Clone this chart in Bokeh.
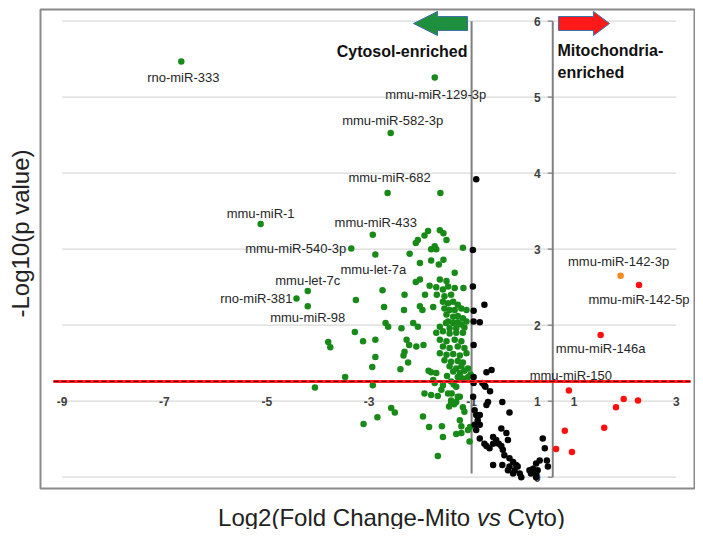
import math
from bokeh.plotting import figure
from bokeh.models import Range1d
from bokeh.embed import file_html
from bokeh.resources import INLINE
from bokeh.core.properties import value

# ---------------- data ----------------
x_ticks = [-9, -7, -5, -3, -1, 1, 3]
y_ticks = [0, 1, 2, 3, 4, 5, 6]
x_tick_labels = ["-9", "-7", "-5", "-3", "-1", "1", "3"]
y_tick_labels = ["0", "1", "2", "3", "4", "5", "6"]
fc_low = -1.0        # log2 fold-change threshold (cytosol)
fc_high = 0.585      # log2 fold-change threshold (mitochondria); y axis crosses here
p_cut = 1.26         # -log10(p) threshold line
x_axis_cross = 1.0   # horizontal axis crosses the y axis at this value

green_x = [-6.67, -1.72, -2.58, -2.64, -1.61, -5.12, -2.93, -1.85, -1.62, -1.55,
           -1.49, -1.92, -2.05, -2.09, -3.35, -2.88, -2.21, -1.79, -1.72, -1.69,
           -1.17, -2.01, -1.79, -1.55, -1.64, -1.33, -2.01, -2.09, -1.82, -4.20,
           -2.74, -4.42, -3.26, -2.31, -1.91, -1.68, -1.16, -4.20, -2.71, -2.32,
           -2.01, -1.96, -1.75, -2.68, -2.63, -2.37, -2.14, -2.05, -3.28, -3.12,
           -2.88, -3.80, -3.76, -2.27, -2.22, -2.08, -1.94, -2.31, -2.33, -2.24,
           -2.88, -2.94, -2.39, -3.47, -4.06, -2.93, -1.84, -1.79, -1.69, -1.75,
           -1.72, -1.59, -1.92, -1.79, -1.66, -1.46, -1.40, -1.30, -1.23, -1.23,
           -2.57, -2.50, -1.95, -2.84, -3.11, -1.83, -1.58, -1.23, -1.20, -1.30,
           -1.20, -1.56, -1.66, -1.44, -1.40, -1.17, -1.14, -1.07, -1.04, -1.02,
           -1.48, -1.40, -1.34, -1.30, -1.56, -1.35, -1.39, -1.27, -1.03, -1.50,
           -1.62,
           -1.62, -1.49, -1.69, -1.56, -1.46, -1.33, -1.53, -1.40, -1.56, -1.46,
           -1.36, -1.27, -1.53, -1.43, -1.33, -1.20, -1.10, -1.49, -1.36, -1.27,
           -1.17, -1.46, -1.36, -1.27, -1.20, -1.10, -1.43, -1.30, -1.14,
           -1.69, -1.56, -1.43, -1.30, -1.17, -1.62, -1.49, -1.33, -1.20, -1.56,
           -1.43, -1.27, -1.14, -1.62, -1.49, -1.36, -1.23, -1.10, -1.53, -1.40,
           -1.27, -1.17, -1.43, -1.30, -1.20, -1.07, -1.36, -1.23, -1.14, -1.27,
           -1.17, -1.07]
green_y = [5.47, 5.26, 4.53, 3.74, 3.74, 3.33, 3.19, 3.24, 3.25, 3.21,
           3.12, 3.18, 3.12, 3.08, 3.01, 2.93, 2.94, 3.00, 3.04, 3.00,
           3.02, 2.82, 2.85, 2.86, 2.80, 2.69, 2.60, 2.57, 2.52, 2.45,
           2.46, 2.35, 2.33, 2.40, 2.40, 2.40, 2.49, 2.25, 2.24, 2.20,
           2.25, 2.20, 2.24, 2.03, 1.98, 1.96, 2.03, 1.98, 1.91, 1.79,
           1.81, 1.78, 1.71, 1.81, 1.74, 1.72, 1.74, 1.65, 1.60, 1.51,
           1.58, 1.45, 1.42, 1.32, 1.18, 1.21, 1.40, 1.38, 1.37, 1.28,
           1.24, 1.15, 1.10, 1.08, 1.07, 1.10, 1.26, 1.19, 1.32, 1.06,
           0.91, 0.85, 0.80, 0.79, 0.70, 0.66, 0.67, 0.75, 0.67, 0.57,
           0.58, 0.53, 0.28, 0.93, 0.97, 0.92, 0.86, 0.62, 0.47, 1.35,
           1.33, 1.01, 0.96, 0.99, 1.21, 1.22, 1.10, 1.06, 0.66, 2.03,
           1.98,
           2.60, 2.58, 2.50, 2.47, 2.51, 2.49, 2.38, 2.40, 2.31, 2.29,
           2.31, 2.27, 2.22, 2.20, 2.20, 2.22, 2.20, 2.14, 2.11, 2.12,
           2.09, 2.05, 2.03, 2.04, 2.01, 2.05, 1.96, 1.96, 1.97,
           1.90, 1.92, 1.89, 1.90, 1.90, 1.81, 1.79, 1.81, 1.79, 1.72,
           1.70, 1.72, 1.70, 1.63, 1.61, 1.62, 1.60, 1.63, 1.54, 1.52,
           1.53, 1.51, 1.46, 1.43, 1.46, 1.43, 1.39, 1.37, 1.40, 1.32,
           1.30, 1.32]

black_x = [-0.91, -0.975, -0.975, -0.75, -0.96, -0.96, -0.84, -0.96, -0.71, -0.61,
           -0.96, -0.96, -0.79, -0.75, -0.73, -0.64, -0.97, -0.40, -0.68, -0.71,
           -0.94, -0.26, -0.91, -0.84, -0.88, -0.94, -0.84, -0.42, -0.91, -0.32,
           -0.58, -0.84, 0.39, -0.52, -0.29, -0.75, -0.58, -0.47, -0.71, -0.42,
           -0.65, 0.43, -0.39, -0.36, -0.26, 0.33, 0.47, -0.19, 0.26, -0.58,
           -0.40, -0.13, -0.26, -0.10, 0.49, 0.20, -0.29, -0.16, 0.13, 0.29,
           -0.19, -0.06, 0.16, 0.26, -0.03, 0.26]
black_y = [3.92, 2.99, 2.51, 2.27, 2.19, 2.05, 2.04, 1.74, 1.38, 1.41,
           1.32, 1.24, 1.24, 1.21, 1.19, 1.13, 1.06, 0.99, 0.99, 0.95,
           0.88, 0.85, 0.82, 0.82, 0.75, 0.69, 0.69, 0.64, 0.62, 0.58,
           0.53, 0.51, 0.51, 0.49, 0.49, 0.44, 0.44, 0.44, 0.41, 0.41,
           0.38, 0.38, 0.36, 0.29, 0.25, 0.22, 0.22, 0.20, 0.18, 0.16,
           0.16, 0.16, 0.14, 0.14, 0.14, 0.11, 0.09, 0.09, 0.09, 0.09,
           0.05, 0.05, 0.05, 0.05, 0.00, 0.00]

red_x = [0.90, 1.97, 2.25, 1.82, 0.82, 1.59, 0.65, 0.96, 2.27, 1.52]
red_y = [1.14, 1.03, 1.01, 0.92, 0.61, 0.65, 0.37, 0.33, 2.53, 1.87]

orange_x = [1.91]
orange_y = [2.65]

label_names = ["rno-miR-333", "mmu-miR-129-3p", "mmu-miR-582-3p", "mmu-miR-682",
               "mmu-miR-1", "mmu-miR-433", "mmu-miR-540-3p", "mmu-let-7a",
               "mmu-let-7c", "rno-miR-381", "mmu-miR-98", "mmu-miR-142-3p",
               "mmu-miR-142-5p", "mmu-miR-146a", "mmu-miR-150"]
label_x = [-6.67, -1.72, -2.58, -2.64, -5.12, -2.93, -3.35, -2.88, -4.20, -4.42,
           -4.20, 1.91, 2.27, 1.52, 0.90]
label_y = [5.47, 5.26, 4.53, 3.74, 3.33, 3.19, 3.01, 2.93, 2.45, 2.35,
           2.25, 2.65, 2.53, 1.87, 1.14]

# ---------------- layout (pixels) ----------------
W, H = 695, 529
PAGE = 0
X0PX, XPER = 61.5, 51.2   # screen px of x=-9, px per x unit
Y0PX, YPER = 476.7, 76.0  # screen px of y=0, px per y unit

def dx(px):
    return (px - X0PX) / XPER - 9

def dy(py):
    return (Y0PX - py) / YPER

# label offsets in px (right, down) and alignment
lab_off = [(2, 16, "center"), (1, 17, "center"), (2, -12, "center"), (2, -15, "center"),
           (0, -11, "center"), (3, -12, "center"), (-5, 0, "right"), (-2, 15, "center"),
           (0, -11, "center"), (-4, 0, "right"), (0, 11, "center"), (-2, -14, "center"),
           (0, 15, "center"), (0, 13, "center"), (2, -15, "center")]

FONT = value("Liberation Sans")

p = figure(width=W, height=H,
           x_range=Range1d(dx(PAGE), dx(PAGE + W)),
           y_range=Range1d(dy(PAGE + H), dy(PAGE)),
           output_backend="svg", toolbar_location=None,
           x_axis_location=None, y_axis_location=None, min_border=0)
p.grid.visible = False
p.outline_line_color = None
p.background_fill_color = "white"
p.border_fill_color = "white"

# chart box
p.quad(left=[dx(40)], right=[dx(694)], top=[dy(9)], bottom=[dy(488)],
       fill_color=None, line_color="#8a8a8a", line_width=2)

# horizontal gridlines
p.segment(x0=[x_ticks[0]] * len(y_ticks), x1=[x_ticks[-1]] * len(y_ticks),
          y0=y_ticks, y1=y_ticks, line_color="#d9d9d9", line_width=1.2)

# x tick labels (along the horizontal axis at y = x_axis_cross)
p.text(x=x_ticks, y=[x_axis_cross] * len(x_ticks), text=x_tick_labels,
       text_align="center", text_baseline="middle", text_font=FONT,
       text_font_size="12px", text_font_style="bold", text_color="#404040")

# y axis (at fc_high) with ticks and labels
p.segment(x0=[fc_high], x1=[fc_high], y0=[y_ticks[0]], y1=[y_ticks[-1]],
          line_color="#7f7f7f", line_width=2)
p.segment(x0=[fc_high - 5 / XPER] * len(y_ticks), x1=[fc_high] * len(y_ticks),
          y0=y_ticks, y1=y_ticks, line_color="#7f7f7f", line_width=1.2)
p.text(x=[fc_high - 12 / XPER] * len(y_ticks), y=y_ticks, text=y_tick_labels,
       text_align="right", text_baseline="middle", text_font=FONT,
       text_font_size="12px", text_font_style="bold", text_color="#404040")

# cytosol threshold line
p.segment(x0=[fc_low], x1=[fc_low], y0=[0.05], y1=[y_ticks[-1]],
          line_color="#7f7f7f", line_width=2)

# points
p.scatter(green_x, green_y, size=6.5, fill_color="#178a17", line_color=None)
p.scatter(black_x, black_y, size=6.5, fill_color="#050505", line_color=None)
p.scatter(red_x, red_y, size=6.5, fill_color="#ff1010", line_color=None)
p.scatter(orange_x, orange_y, size=6.5, fill_color="#f5891f", line_color=None)

# p-value threshold line
p.segment(x0=[dx(53)], x1=[dx(690)], y0=[p_cut], y1=[p_cut],
          line_color="#ff2020", line_width=3)
p.segment(x0=[dx(53)], x1=[dx(690)], y0=[p_cut], y1=[p_cut],
          line_color="#7a0000", line_width=1.2, line_dash="5 3")

# point labels
for name, lx, ly, (ox, oy, al) in zip(label_names, label_x, label_y, lab_off):
    p.text(x=[lx + ox / XPER], y=[ly - oy / YPER], text=[name],
           text_align=al, text_baseline="middle", text_font=FONT,
           text_font_size="13px", text_color="#262626")

# arrows
gpx = [413, 437, 437, 467, 467, 437, 437]
gpy = [23, 11, 16, 16, 30, 30, 35]
p.patch([dx(v) for v in gpx], [dy(v) for v in gpy], fill_color="#1e8f3c",
        line_color="#3f6fa8", line_width=1)
rpx = [558, 593, 593, 609, 593, 593, 558]
rpy = [16, 16, 11, 23, 35, 30, 30]
p.patch([dx(v) for v in rpx], [dy(v) for v in rpy], fill_color="#ff1a1a",
        line_color="#3f6fa8", line_width=1)

# region titles
p.text(x=[dx(467)], y=[dy(50.5)], text=["Cytosol-enriched"], text_align="right",
       text_baseline="middle", text_font=FONT, text_font_size="16px",
       text_font_style="bold", text_color="#111111")
p.text(x=[dx(557)] * 2, y=[dy(50), dy(71.5)], text=["Mitochondria-", "enriched"],
       text_align="left", text_baseline="middle", text_font=FONT,
       text_font_size="16px", text_font_style="bold", text_color="#111111")

# axis titles
p.text(x=[dx(20)], y=[dy(233)], text=["-Log10(p value)"], angle=math.pi / 2,
       text_align="center", text_baseline="middle", text_font=FONT,
       text_font_size="24px", text_color="#222222")
p.text(x=[dx(469.7)], y=[dy(516.5)], text=["Log2(Fold Change-Mito"],
       text_align="right", text_baseline="middle", text_font=FONT,
       text_font_size="24px", text_color="#222222")
p.text(x=[dx(488.4)], y=[dy(516.5)], text=["vs"], text_align="center",
       text_baseline="middle", text_font=FONT, text_font_size="24px",
       text_font_style="italic", text_color="#222222")
p.text(x=[dx(507.1)], y=[dy(516.5)], text=["Cyto)"], text_align="left",
       text_baseline="middle", text_font=FONT, text_font_size="24px",
       text_color="#222222")

open("out.html", "w").write(file_html(p, INLINE))
